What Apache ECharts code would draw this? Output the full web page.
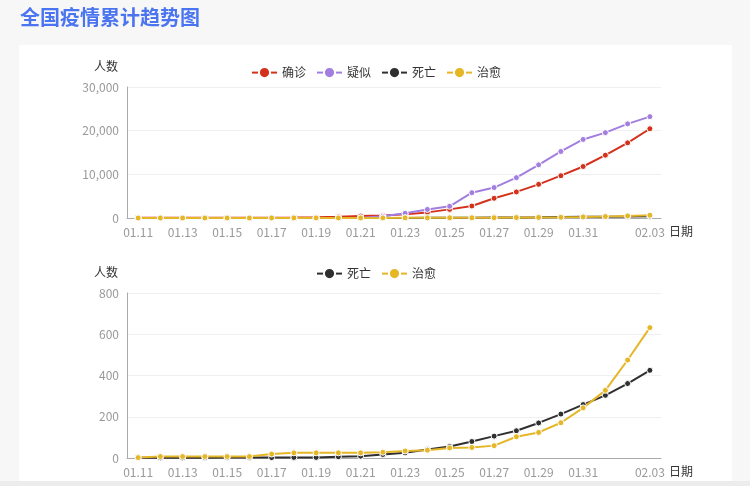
<!DOCTYPE html>
<html>
<head>
<meta charset="utf-8">
<script src="https://cdn.jsdelivr.net/npm/echarts@6/dist/echarts.min.js"></script>
<style>
html,body{margin:0;padding:0;background:#f7f7f7;}
#c{width:752px;height:495px;}
</style>
</head>
<body>
<div id="c"></div>
<script>
var dates = ['01.11','01.12','01.13','01.14','01.15','01.16','01.17','01.18','01.19','01.20','01.21','01.22','01.23','01.24','01.25','01.26','01.27','01.28','01.29','01.30','01.31','02.01','02.02','02.03'];
var confirmed = [41,41,41,41,41,45,62,121,198,291,440,571,830,1287,1975,2744,4515,5974,7711,9692,11791,14380,17205,20438];
var suspected = [0,0,0,0,0,0,0,0,0,0,0,393,1072,1965,2684,5794,6973,9239,12167,15238,17988,19544,21558,23214];
var deaths = [1,1,1,1,2,2,2,3,3,6,9,17,25,41,56,80,106,132,170,213,259,304,361,425];
var cured = [2,7,7,7,7,7,19,25,25,25,25,28,34,38,49,51,60,103,124,171,243,328,475,632];
var topYTicks = {min:0, max:30000, interval:10000};
var bottomYTicks = {min:0, max:800, interval:200};

var FONT = '"Noto Sans CJK SC","Noto Sans",sans-serif';
var colors = {c:'#d4311c', s:'#a27ee0', d:'#2f2f2f', h:'#e5b626'};

function xAxis(gi){
  return {
    type:'category', gridIndex:gi, data:dates,
    name:'日期', nameGap:8,
    nameTextStyle:{color:'#333', fontSize:12, fontFamily:FONT, verticalAlign:'top', padding:[7,0,0,0]},
    axisLine:{lineStyle:{color:'#aaa'}},
    axisTick:{show:false},
    axisLabel:{color:'#999', fontSize:12, fontFamily:FONT,
      interval:function(i){ return (i%2===0 && i!==22) || i===23; }},
    splitLine:{show:false}
  };
}
function yAxis(gi, t){
  return {
    type:'value', gridIndex:gi, min:t.min, max:t.max, interval:t.interval,
    name:'人数', nameGap:15,
    nameTextStyle:{color:'#333', fontSize:12, fontFamily:FONT, align:'right', padding:[0,9,0,0]},
    axisLine:{show:true, lineStyle:{color:'#aaa'}},
    axisTick:{show:false},
    axisLabel:{color:'#999', fontSize:12, fontFamily:FONT},
    splitLine:{lineStyle:{color:'#f0f0f0'}}
  };
}
function line(name, data, color, gi){
  return {
    type:'line', name:name, data:data, xAxisIndex:gi, yAxisIndex:gi,
    symbol:'circle', symbolSize:6,
    itemStyle:{color:color, borderColor:'#fff', borderWidth:1},
    lineStyle:{color:color, width:2},
    animation:false
  };
}

var chart = echarts.init(document.getElementById('c'));
chart.setOption({
  backgroundColor:'#f7f7f7',
  animation:false,
  textStyle:{fontFamily:FONT},
  graphic:[
    {type:'rect', z:-10, shape:{x:19, y:45, width:713, height:436}, style:{fill:'#ffffff'}},
    {type:'rect', z:-10, shape:{x:0, y:481, width:752, height:5}, style:{fill:'#ececec'}},
    {type:'rect', z:-10, shape:{x:0, y:486, width:752, height:9}, style:{fill:'#ffffff'}},
    {type:'rect', z:-10, shape:{x:750, y:0, width:2, height:495}, style:{fill:'#ffffff'}}
  ],
  title:{text:'全国疫情累计趋势图', left:15, top:2,
    textStyle:{color:'#4a74f0', fontSize:20, fontWeight:'bold', fontFamily:FONT}},
  legend:[
    {left:'center', top:61, data:['确诊','疑似','死亡','治愈'], itemGap:10,
      textStyle:{color:'#333', fontSize:12, fontFamily:FONT}},
    {left:'center', top:262, data:['死亡','治愈'], itemGap:10,
      textStyle:{color:'#333', fontSize:12, fontFamily:FONT}}
  ],
  grid:[
    {left:127, right:91, top:87, height:131},
    {left:127, right:91, top:293, height:165}
  ],
  xAxis:[xAxis(0), xAxis(1)],
  yAxis:[yAxis(0, topYTicks), yAxis(1, bottomYTicks)],
  series:[
    line('确诊', confirmed, colors.c, 0),
    line('疑似', suspected, colors.s, 0),
    line('死亡', deaths, colors.d, 0),
    line('治愈', cured, colors.h, 0),
    line('死亡', deaths, colors.d, 1),
    line('治愈', cured, colors.h, 1)
  ]
});
</script>
</body>
</html>
